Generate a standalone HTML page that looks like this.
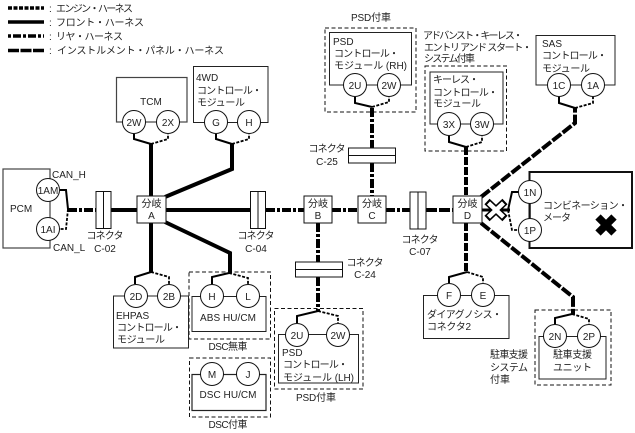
<!DOCTYPE html>
<html><head><meta charset="utf-8">
<style>
html,body{margin:0;padding:0;background:#fff}
svg{display:block}
text{font-family:"Liberation Sans","Noto Sans CJK JP",sans-serif;font-size:10px;fill:#222}
.b{fill:#fff;stroke:#222;stroke-width:1}
.d{fill:none;stroke:#111;stroke-width:1;stroke-dasharray:4 2.5}
.c{fill:#fff;stroke:#111;stroke-width:1}
.s{fill:none;stroke:#000;stroke-width:2}
.sd{fill:none;stroke:#000;stroke-width:1.8;stroke-dasharray:3 1.5}
.f{fill:none;stroke:#000;stroke-width:4}
.r{fill:none;stroke:#000;stroke-width:4;stroke-dasharray:9 2 3 2}
.i{fill:none;stroke:#000;stroke-width:4;stroke-dasharray:11 2}
.m{text-anchor:middle}
</style></head><body>
<svg width="635" height="433" viewBox="0 0 635 433" xmlns="http://www.w3.org/2000/svg">
<!-- legend -->
<path d="M8 8H44" fill="none" stroke="#000" stroke-width="3.500" stroke-dasharray="4 1.500"/>
<path d="M8 22H44" fill="none" stroke="#000" stroke-width="3.500"/>
<path d="M8 36H44" fill="none" stroke="#000" stroke-width="3.500" stroke-dasharray="3 2 8 2"/>
<path d="M8 50.500H44" fill="none" stroke="#000" stroke-width="3.500" stroke-dasharray="11 1.500"/>
<text x="49" y="12">:</text><text x="56" y="12" textLength="77">エンジン・ハーネス</text>
<text x="49" y="26">:</text><text x="56" y="26" textLength="88">フロント・ハーネス</text>
<text x="49" y="40">:</text><text x="56" y="40" textLength="67">リヤ・ハーネス</text>
<text x="49" y="54">:</text><text x="57" y="54" textLength="167">インストルメント・パネル・ハーネス</text>

<!-- dashed option frames -->
<rect class="d" x="325" y="28" width="91" height="84"/>
<rect class="d" x="425" y="66" width="81.500" height="85"/>
<rect class="d" x="189" y="272" width="81.500" height="67"/>
<rect class="d" x="189.500" y="358" width="81" height="59"/>
<rect class="d" x="274.500" y="308.500" width="88.500" height="80.500"/>
<rect class="d" x="535" y="310" width="76" height="75"/>

<!-- boxes -->
<rect class="b" x="116.500" y="77.500" width="70.500" height="44.500" style="stroke:#444;stroke-width:1.2"/>
<rect class="b" x="193.500" y="66.500" width="74.500" height="56"/>
<rect class="b" x="329.500" y="32.500" width="82" height="52.500"/>
<rect class="b" x="430" y="72" width="73" height="52"/>
<rect class="b" x="536" y="35.500" width="79" height="49.500"/>
<rect class="b" x="3" y="169" width="47" height="79" style="stroke:#444;stroke-width:1.2"/>
<rect class="b" x="113.500" y="296" width="75" height="52"/>
<rect class="b" x="192" y="296.500" width="74" height="35"/>
<rect class="b" x="192" y="374.500" width="74" height="36" style="stroke-width:1.2"/>
<rect class="b" x="278.500" y="334.500" width="80" height="48.500"/>
<rect class="b" x="423.500" y="295.500" width="85.500" height="43"/>
<rect class="b" x="539" y="336.500" width="67" height="42.500"/>
<rect x="529.500" y="172" width="102.500" height="76" fill="#fff" stroke="#111" stroke-width="2"/>

<!-- harness trunks -->
<path class="f" d="M151 144V196"/>
<path class="f" d="M232 144V169L165 197"/>
<path class="f" d="M111 210H137"/>
<path class="r" d="M68 210H96"/>
<path class="f" d="M166 210H250"/>
<path class="r" d="M266 210H304"/>
<path class="r" d="M332 210H358"/>
<path class="r" d="M386 210H410"/>
<path class="i" d="M426 210H453"/>
<path class="f" d="M151 223V272"/>
<path class="f" d="M165 222L230 253V273"/>
<path class="r" d="M318 223V262"/>
<path class="r" d="M318 277V311"/>
<path class="r" d="M372 108V148"/>
<path class="r" d="M372 163V196"/>
<path class="i" d="M466 147V196" style="stroke-dasharray:8 2"/>
<path class="i" d="M466 223V272" style="stroke-dasharray:8 2"/>
<path class="i" d="M481 197L575 123V108"/>
<path class="i" d="M481 223L573 297V314"/>
<path class="f" d="M482 210H510" style="stroke-width:3"/>

<!-- branch stubs -->
<path class="s" d="M134 134V139L151 144"/><path class="sd" d="M151 144L168 139V134"/>
<path class="s" d="M216 134V139L232 144"/><path class="sd" d="M232 144L249 139V134"/>
<path class="s" d="M355 97V103L372 107"/><path class="sd" d="M372 107L389 102V97"/>
<path class="s" d="M449 136V142L466 147"/><path class="sd" d="M466 147L482 142V136"/>
<path class="s" d="M559 97V103L575 108"/><path class="sd" d="M575 108L593 103V97"/>
<path class="s" d="M135 284V277L151 272"/><path class="sd" d="M151 272L169 277V284"/>
<path class="s" d="M212 284V277L229 273"/><path class="sd" d="M229 273L248 278V284"/>
<path class="s" d="M297 323V316L318 311"/><path class="sd" d="M318 311L338 316V323"/>
<path class="s" d="M449 283V277L467 272"/><path class="sd" d="M467 272L483 277V283"/>
<path class="s" d="M555 324V318L572 314"/><path class="sd" d="M572 314L589 319V324"/>
<path class="s" d="M60 190H66L68 209"/><path class="sd" d="M68 209L66 229H60"/>
<path class="s" d="M519 192H512L508 210"/><path class="sd" d="M508 210L512 230H519"/>

<!-- connectors -->
<rect class="c" x="96" y="191.500" width="15" height="37"/><path class="c" d="M103.500 191.500V228.500"/>
<rect class="c" x="250.500" y="191.500" width="15" height="37"/><path class="c" d="M258 191.500V228.500"/>
<rect class="c" x="410" y="192" width="16" height="37"/><path class="c" d="M418 192V229"/>
<rect class="c" x="348.500" y="148" width="47" height="15"/><path class="c" d="M348.500 155.500H395.500"/>
<rect class="c" x="295.500" y="262" width="47" height="15"/><path class="c" d="M295.500 269.500H342.500"/>

<!-- branch nodes -->
<rect class="c" x="137" y="196" width="29" height="27"/>
<rect class="c" x="304" y="196" width="28" height="27"/>
<rect class="c" x="358" y="196" width="28" height="27"/>
<rect class="c" x="453" y="196" width="29" height="27"/>

<!-- circles -->
<circle class="c" cx="134" cy="122" r="11.500"/><circle class="c" cx="168" cy="122" r="11.500"/>
<circle class="c" cx="216" cy="122" r="11.500"/><circle class="c" cx="249" cy="122" r="11.500"/>
<circle class="c" cx="355" cy="85" r="11.500"/><circle class="c" cx="389" cy="85" r="11.500"/>
<circle class="c" cx="449" cy="124" r="11.500"/><circle class="c" cx="482" cy="124" r="11.500"/>
<circle class="c" cx="559" cy="85" r="11.500"/><circle class="c" cx="593" cy="85" r="11.500"/>
<circle class="c" cx="48" cy="190" r="11.500"/><circle class="c" cx="48" cy="229" r="11.500"/>
<circle class="c" cx="136" cy="296" r="11.500"/><circle class="c" cx="169" cy="296" r="11.500"/>
<circle class="c" cx="212" cy="296" r="11.500"/><circle class="c" cx="248" cy="296" r="11.500"/>
<circle class="c" cx="212" cy="374" r="11.500"/><circle class="c" cx="248" cy="374" r="11.500"/>
<circle class="c" cx="297" cy="335" r="11.500"/><circle class="c" cx="338" cy="335" r="11.500"/>
<circle class="c" cx="449" cy="295" r="11.500"/><circle class="c" cx="483" cy="295" r="11.500"/>
<circle class="c" cx="555" cy="336" r="11.500"/><circle class="c" cx="589" cy="336" r="11.500"/>
<path d="M530 204V218" stroke="#111" stroke-width="1.500"/>
<circle class="c" cx="530" cy="192" r="11.500"/><circle class="c" cx="530" cy="230" r="11.500"/>

<!-- X marks -->
<path d="M487 201.500L505 218.500M505 201.500L487 218.500" stroke="#000" stroke-width="7.500" fill="none"/>
<path d="M488.500 203L503.500 217M503.500 203L488.500 217" stroke="#fff" stroke-width="4.500" fill="none"/>
<path d="M598 217L614 233M614 217L598 233" stroke="#000" stroke-width="7.500" fill="none"/>

<!-- circle labels -->
<text class="m" x="134" y="126">2W</text><text class="m" x="168" y="126">2X</text>
<text class="m" x="216" y="126">G</text><text class="m" x="249" y="126">H</text>
<text class="m" x="355" y="89">2U</text><text class="m" x="389" y="89">2W</text>
<text class="m" x="449" y="128">3X</text><text class="m" x="482" y="128">3W</text>
<text class="m" x="559" y="89">1C</text><text class="m" x="593" y="89">1A</text>
<text class="m" x="48" y="194">1AM</text><text class="m" x="48" y="233">1AI</text>
<text class="m" x="136" y="300">2D</text><text class="m" x="169" y="300">2B</text>
<text class="m" x="212" y="300">H</text><text class="m" x="248" y="300">L</text>
<text class="m" x="212" y="378">M</text><text class="m" x="248" y="378">J</text>
<text class="m" x="297" y="339">2U</text><text class="m" x="338" y="339">2W</text>
<text class="m" x="449" y="299">F</text><text class="m" x="483" y="299">E</text>
<text class="m" x="555" y="340">2N</text><text class="m" x="589" y="340">2P</text>
<text class="m" x="530" y="196">1N</text><text class="m" x="530" y="234">1P</text>

<!-- branch labels -->
<text class="m" x="151.500" y="207">分岐</text><text class="m" x="151.500" y="219">A</text>
<text class="m" x="318" y="207">分岐</text><text class="m" x="318" y="219">B</text>
<text class="m" x="372" y="207">分岐</text><text class="m" x="372" y="219">C</text>
<text class="m" x="467.500" y="207">分岐</text><text class="m" x="467.500" y="219">D</text>

<!-- connector labels -->
<text class="m" x="105" y="239" textLength="37">コネクタ</text><text class="m" x="105" y="252">C-02</text>
<text class="m" x="256" y="239" textLength="37">コネクタ</text><text class="m" x="256" y="252">C-04</text>
<text class="m" x="420" y="243" textLength="37">コネクタ</text><text class="m" x="420" y="255">C-07</text>
<text class="m" x="327" y="152" textLength="37">コネクタ</text><text class="m" x="327" y="165">C-25</text>
<text class="m" x="365" y="266" textLength="37">コネクタ</text><text class="m" x="365" y="278">C-24</text>

<!-- box labels -->
<text class="m" x="151" y="105">TCM</text>
<text x="196" y="81">4WD</text><text x="197" y="94" textLength="65">コントロール・</text><text x="197" y="106" textLength="48">モジュール</text>
<text class="m" x="371" y="21" textLength="40">PSD付車</text>
<text x="333" y="45">PSD</text><text x="334" y="57" textLength="65">コントロール・</text><text x="334" y="69" textLength="73">モジュール (RH)</text>
<text x="423" y="39" textLength="100">アドバンスト・キーレス・</text>
<text x="424" y="51" textLength="108">エントリ アンド スタート・</text>
<text x="424" y="62" textLength="51">システム付車</text>
<text x="433" y="83" textLength="46">キーレス・</text><text x="433" y="96" textLength="65">コントロール・</text><text x="433" y="107" textLength="48">モジュール</text>
<text x="542" y="47">SAS</text><text x="542" y="59" textLength="65">コントロール・</text><text x="542" y="72" textLength="48">モジュール</text>
<text x="10" y="212">PCM</text>
<text x="52" y="178">CAN_H</text><text x="53" y="251">CAN_L</text>
<text x="543" y="209" textLength="85">コンビネーション・</text><text x="543" y="221" textLength="28">メータ</text>
<text x="116" y="319">EHPAS</text><text x="117" y="331" textLength="65">コントロール・</text><text x="117" y="343" textLength="48">モジュール</text>
<text class="m" x="228" y="321" textLength="56">ABS HU/CM</text>
<text class="m" x="228" y="350" textLength="39">DSC無車</text>
<text class="m" x="228" y="398" textLength="57">DSC HU/CM</text>
<text class="m" x="228" y="428" textLength="39">DSC付車</text>
<text x="282" y="356">PSD</text><text x="283" y="368" textLength="65">コントロール・</text><text x="283" y="381" textLength="71">モジュール (LH)</text>
<text class="m" x="316" y="401" textLength="40">PSD付車</text>
<text x="427" y="318" textLength="75">ダイアグノシス・</text><text x="427" y="330" textLength="44">コネクタ2</text>
<text x="490" y="358" textLength="38">駐車支援</text><text x="490" y="371" textLength="38">システム</text><text x="490" y="383">付車</text>
<text class="m" x="572.500" y="358" textLength="39">駐車支援</text><text class="m" x="572.500" y="371" textLength="39">ユニット</text>
</svg>
</body></html>
